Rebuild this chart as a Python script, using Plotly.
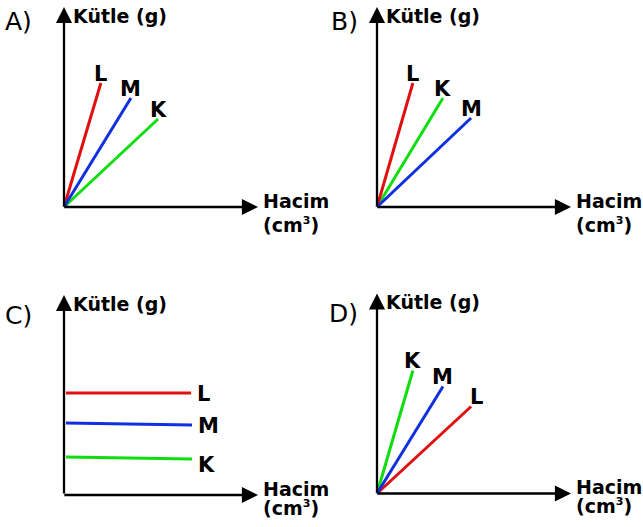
import plotly.graph_objects as go

W, H = 643, 527

# substances and their colours
substances = ["K", "L", "M"]
line_colors = {"K": "#10dd10", "L": "#e01010", "M": "#1030e0"}

panel_labels = ["A)", "B)", "C)", "D)"]

# end points (volume, mass) of each line, same order as substances
a_volume = [4.85, 1.9, 3.45]
a_mass = [4.4, 6.2, 5.45]

b_volume = [3.4, 1.85, 4.85]
b_mass = [5.45, 6.2, 4.45]

c_volume_start = [0.1, 0.1, 0.1]
c_volume_end = [6.6, 6.55, 6.6]
c_mass_start = [1.9, 5.1, 3.6]
c_mass_end = [1.8, 5.1, 3.5]

d_volume = [1.85, 4.85, 3.4]
d_mass = [6.15, 4.35, 5.35]

axis_len = 10
y_title = "<b>Kütle (g)</b>"
x_title_1 = "<b>Hacim</b>"
x_title_2 = "<b>(cm<sup><span style='font-size:11px'>3</span></sup>)</b>"

# layout: pixel frame of every panel and pixel position of its origin
sx, sy = 19.4, 20.0
frames = [(0, 0, 320, 262), (320, 0, 643, 262), (0, 262, 320, 527), (320, 262, 643, 527)]
origins = [(64, 207), (377, 207), (64, 495), (377, 493.5)]
label_pos = [(-2.32, 9.3), (-1.68, 9.27), (-2.32, 8.95), (-1.75, 9.0)]

FONT = "DejaVu Sans"
fig = go.Figure()
annotations = []

for i in range(4):
    n = "" if i == 0 else str(i + 1)
    xr, yr = "x" + n, "y" + n
    x0, y0, x1, y1 = frames[i]
    ox, oy = origins[i]
    fig.layout["xaxis" + n] = dict(
        domain=[x0 / W, x1 / W], range=[(x0 - ox) / sx, (x1 - ox) / sx],
        visible=False, fixedrange=True, anchor=yr)
    fig.layout["yaxis" + n] = dict(
        domain=[1 - y1 / H, 1 - y0 / H], range=[(oy - y1) / sy, (oy - y0) / sy],
        visible=False, fixedrange=True, anchor=xr)

    # data lines
    if i == 2:
        for j, s in enumerate(substances):
            fig.add_trace(go.Scatter(
                x=[c_volume_start[j], c_volume_end[j]], y=[c_mass_start[j], c_mass_end[j]],
                mode="lines", line=dict(color=line_colors[s], width=3),
                xaxis=xr, yaxis=yr, showlegend=False, hoverinfo="skip"))
            annotations.append(dict(
                x=c_volume_end[j], y=c_mass_end[j], xref=xr, yref=yr, text="<b>%s</b>" % s,
                showarrow=False, xanchor="left", yanchor="middle", xshift=4,
                yshift=-6 if s == "K" else -1,
                font=dict(family=FONT, size=21, color="black")))
    else:
        vols, masses = [(a_volume, a_mass), (b_volume, b_mass), None, (d_volume, d_mass)][i]
        for j, s in enumerate(substances):
            fig.add_trace(go.Scatter(
                x=[0, vols[j]], y=[0, masses[j]],
                mode="lines", line=dict(color=line_colors[s], width=3),
                xaxis=xr, yaxis=yr, showlegend=False, hoverinfo="skip"))
            annotations.append(dict(
                x=vols[j], y=masses[j], xref=xr, yref=yr, text="<b>%s</b>" % s,
                showarrow=False, xanchor="center", yanchor="bottom", yshift=-5,
                xshift=5 if (i == 3 and s == "L") else 0,
                font=dict(family=FONT, size=21, color="black")))

    # axes drawn as arrows
    for (tx, ty) in [(axis_len, 0), (0, axis_len)]:
        annotations.append(dict(
            x=tx, y=ty, ax=-0.06 if ty == 0 else 0, ay=0, xref=xr, yref=yr, axref=xr, ayref=yr,
            text="", showarrow=True, arrowhead=2, arrowsize=1.4, arrowwidth=2.3,
            arrowcolor="black"))

    annotations.append(dict(
        x=0, y=axis_len - 0.45, xref=xr, yref=yr, text=y_title, showarrow=False,
        xanchor="left", yanchor="middle", xshift=7,
        font=dict(family=FONT, size=19, color="black")))
    annotations.append(dict(
        x=axis_len, y=0, xref=xr, yref=yr, text=x_title_1, showarrow=False,
        xanchor="left", yanchor="middle", xshift=3, yshift=6,
        font=dict(family=FONT, size=19, color="black")))
    annotations.append(dict(
        x=axis_len, y=0, xref=xr, yref=yr, text=x_title_2, showarrow=False,
        xanchor="left", yanchor="middle", xshift=3, yshift=-18 if i < 2 else -13,
        font=dict(family=FONT, size=19, color="black")))
    lx, ly = label_pos[i]
    annotations.append(dict(
        x=lx, y=ly, xref=xr, yref=yr, text=panel_labels[i], showarrow=False,
        xanchor="center", yanchor="middle",
        font=dict(family=FONT, size=25, color="black")))

fig.update_layout(
    width=W, height=H, margin=dict(l=0, r=0, t=0, b=0),
    plot_bgcolor="white", paper_bgcolor="white",
    annotations=annotations, showlegend=False)

# drop the default page margin so the figure sits at the window's corner
fig.write_html("out.html", config={"displayModeBar": False},
               post_script="document.body.style.margin='0';")
